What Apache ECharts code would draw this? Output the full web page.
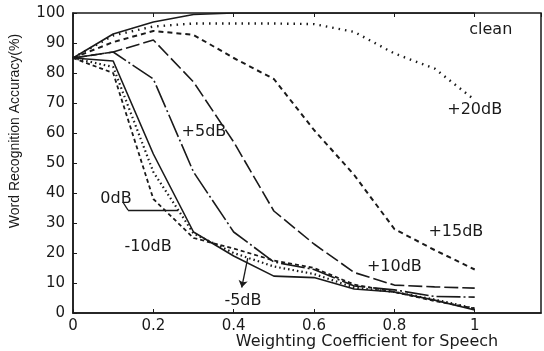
<!DOCTYPE html>
<html>
<head>
<meta charset="utf-8">
<script src="https://cdn.jsdelivr.net/npm/echarts@6/dist/echarts.min.js"></script>
<style>
  html, body { margin: 0; padding: 0; background: #fff; }
  #chart { width: 544px; height: 351px; }
</style>
</head>
<body>
<div id="chart"></div>
<script>
// weighting coefficient for speech (x)
const weights = [0, 0.1, 0.2, 0.3, 0.4, 0.5, 0.6, 0.7, 0.8, 0.9, 1];

// word recognition accuracy (%) per noise condition
const clean = [85, 93, 97, 99.5, 100, 100, 100, 100, 100, 100, 100];
const snr20 = [85, 92.5, 95.5, 96.5, 96.5, 96.5, 96.3, 93.7, 86.5, 81.5, 71];
const snr15 = [85, 90.3, 94, 92.7, 85, 78, 61, 46, 28, 21, 14.5];
const snr10 = [85, 87, 91, 77, 57, 34, 23, 13.5, 9.3, 8.7, 8.3];
const snr5 = [85, 87, 78, 47, 27, 17, 14.5, 9, 7.7, 5.5, 5.3];
const snr0 = [85, 84, 53, 27, 19, 12.3, 11.8, 8, 7, 4.3, 1];
const snrM5 = [85, 82, 47, 26.5, 20, 15.5, 13, 8.5, 7, 4.5, 1.5];
const snrM10 = [85, 80, 38, 25, 21.5, 17.5, 15, 9.5, 7, 4, 1.5];

// curve labels, in data coordinates
const notes = [
  ['clean', 1.04, 94.3],
  ['+20dB', 1.0, 67.7],
  ['+5dB', 0.326, 60.3],
  ['+15dB', 0.953, 27],
  ['+10dB', 0.8, 15.3],
  ['0dB', 0.107, 38],
  ['-10dB', 0.187, 22],
  ['-5dB', 0.423, 4]
];

const ink = '#1a1a1a';
const font = 'DejaVu Sans';

const pairs = (ys) => weights.map((w, i) => [w, ys[i]]);

const mkLine = (name, ys, type, width) => ({
  name: name,
  type: 'line',
  data: pairs(ys),
  symbol: 'none',
  silent: true,
  animation: false,
  lineStyle: { color: ink, width: width || 1.5, type: type }
});

const chart = echarts.init(document.getElementById('chart'));

const series = [
  mkLine('clean', clean, 'solid', 1.6),
  mkLine('+20dB', snr20, [1.5, 5], 2.4),
  mkLine('+15dB', snr15, [5, 4], 2),
  mkLine('+10dB', snr10, [14, 4], 1.6),
  mkLine('+5dB', snr5, [24, 3, 2, 3], 1.6),
  mkLine('0dB', snr0, 'solid', 1.6),
  mkLine('-5dB', snrM5, [1.5, 3], 2.2),
  mkLine('-10dB', snrM10, [4, 3], 1.8)
];

// leader to the 0dB curve and arrow to the -5dB curve
series[5].markLine = {
  silent: true,
  symbol: ['none', 'none'],
  label: { show: false },
  lineStyle: { color: ink, width: 1.3, type: 'solid' },
  data: [
    [{ coord: [0.124, 37] }, { coord: [0.137, 34.3] }],
    [{ coord: [0.137, 34.3] }, { coord: [0.262, 34.3] }]
  ]
};
series[6].markLine = {
  silent: true,
  symbol: ['none', 'arrow'],
  symbolSize: 7,
  label: { show: false },
  lineStyle: { color: ink, width: 1.3, type: 'solid' },
  data: [
    [{ coord: [0.435, 18.3] }, { coord: [0.42, 8.5] }]
  ]
};

chart.setOption({
  backgroundColor: '#fff',
  animation: false,
  grid: {
    left: 73, right: 3, top: 13, bottom: 38,
    show: true, borderColor: ink, borderWidth: 1.5
  },
  xAxis: [{
    type: 'value',
    min: 0, max: 1.165, interval: 0.2,
    axisLine: { lineStyle: { color: ink, width: 1.5 } },
    axisTick: { inside: true, length: 4, lineStyle: { color: ink } },
    splitLine: { show: false },
    axisLabel: {
      color: ink, fontFamily: font, fontSize: 15, margin: 6,
      showMaxLabel: false,
      formatter: (v) => (v > 1.01 ? '' : String(+v.toFixed(1)))
    }
  }, {
    type: 'value',
    position: 'top',
    min: 0, max: 1.165, interval: 0.2,
    axisLine: { show: false },
    axisTick: { inside: true, length: 4, lineStyle: { color: ink } },
    axisLabel: { show: false },
    splitLine: { show: false }
  }],
  yAxis: {
    type: 'value',
    min: 0, max: 100, interval: 10,
    axisLine: { show: true, lineStyle: { color: ink, width: 1.5 } },
    axisTick: { show: true, inside: true, length: 4, lineStyle: { color: ink } },
    splitLine: { show: false },
    axisLabel: { color: ink, fontFamily: font, fontSize: 15, margin: 8 }
  },
  series: series
});

// axis names and curve labels
const graphics = [
  {
    type: 'text', x: 367, y: 342,
    style: {
      text: 'Weighting Coefficient for Speech', fill: ink,
      font: '16px "DejaVu Sans"', textAlign: 'center', textVerticalAlign: 'middle'
    }
  },
  {
    type: 'text', x: 15, y: 131, rotation: Math.PI / 2,
    style: {
      text: 'Word Recognition Accuracy(%)', fill: ink,
      font: '14px "Liberation Sans Narrow", "Liberation Sans"', textAlign: 'center', textVerticalAlign: 'middle'
    }
  }
];
notes.forEach(([txt, x, y]) => {
  const p = chart.convertToPixel({ gridIndex: 0 }, [x, y]);
  graphics.push({
    type: 'text', x: p[0], y: p[1],
    style: {
      text: txt, fill: ink, font: '16px "DejaVu Sans"',
      textAlign: 'center', textVerticalAlign: 'middle'
    }
  });
});
chart.setOption({ graphic: graphics });
</script>
</body>
</html>
